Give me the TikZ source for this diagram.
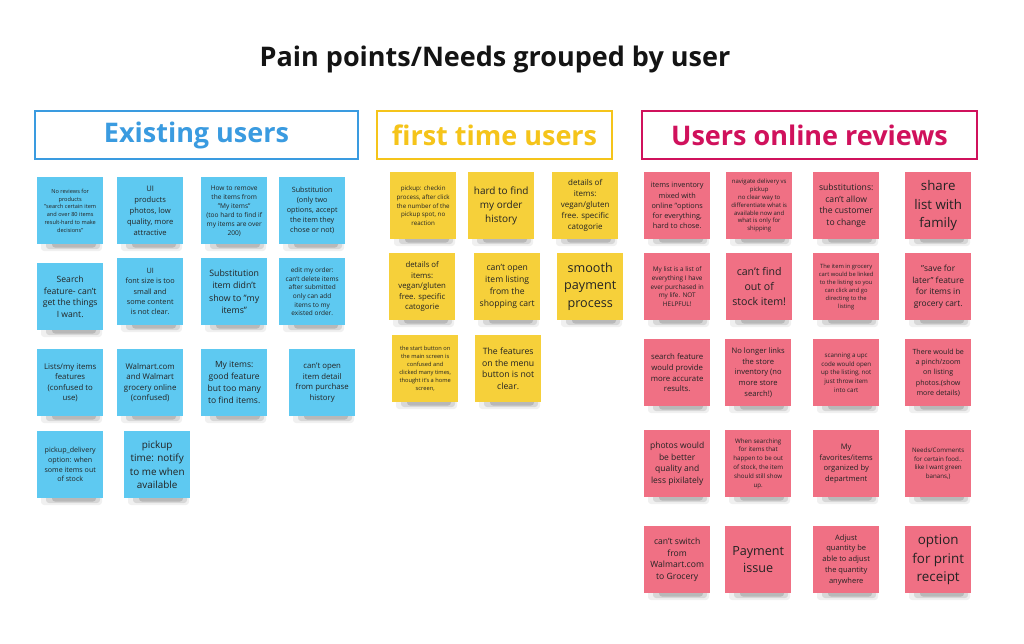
\documentclass[tikz,border=0pt]{standalone}
\usepackage{fontspec}
\setmainfont{Open Sans}
\definecolor{noteblue}{RGB}{94,201,241}
\definecolor{noteyellow}{RGB}{246,208,58}
\definecolor{notepink}{RGB}{240,112,132}
\definecolor{hdrblue}{RGB}{58,155,224}
\definecolor{hdryellow}{RGB}{245,196,26}
\definecolor{hdrpink}{RGB}{208,17,92}
\definecolor{ink}{RGB}{35,35,35}
\tikzset{
  note/.style={anchor=north west, minimum width=66pt, minimum height=67pt, inner sep=0pt, align=center, text=ink},
  hdrbox/.style={draw, line width=1.5pt, inner sep=0pt, font=\fontsize{27}{30}\selectfont\bfseries},
  shadowlayer/.style={fill=black, rounded corners=3pt}
}
\newcommand\stick[7]{%
  \fill[shadowlayer,opacity=.06] (#2+4,#3+58) rectangle (#2+65,#3+74);
  \fill[shadowlayer,opacity=.10] (#2+9,#3+60) rectangle (#2+63,#3+72);
  \fill[shadowlayer,opacity=.14] (#2+15,#3+62) rectangle (#2+59,#3+70.5);
  \node[note, fill=#4, font=\fontsize{#5}{#6}\selectfont] (#1) at (#2,#3) {#7};
}
\begin{document}
\begin{tikzpicture}[x=1pt,y=-1pt]
\useasboundingbox[fill=white] (0,0) rectangle (1024,643);
\node[font=\fontsize{27}{30}\selectfont\bfseries, text=black!92] (title) at (495,59) {Pain points/Needs grouped by user};
\node[hdrbox, draw=hdrblue, text=hdrblue, minimum width=323pt, minimum height=48pt] (h1) at (196.5,135) {Existing users};
\node[hdrbox, draw=hdryellow, text=hdryellow, minimum width=235pt, minimum height=48pt] (h2) at (494.5,135) {first time users};
\node[hdrbox, draw=hdrpink, text=hdrpink, minimum width=335pt, minimum height=48pt] (h3) at (809.5,135) {Users online reviews};
% blue
\stick{b1}{37}{177}{noteblue}{5.6}{7.7}{No reviews for\\products\\"search certain item\\and over 80 items\\result-hard to make\\decisions"}
\stick{b2}{117}{177}{noteblue}{7.6}{11}{UI\\products\\photos, low\\quality, more\\attractive}
\stick{b3}{201}{177}{noteblue}{6.6}{9}{How to remove\\the items from\\"My items"\\(too hard to find if\\my items are over\\200)}
\stick{b4}{279}{177}{noteblue}{7.2}{10}{Substitution\\(only two\\options, accept\\the item they\\chose or not)}
\stick{b5}{37}{263}{noteblue}{8.6}{11.7}{Search\\feature- can't\\get the things\\I want.}
\stick{b6}{117}{258}{noteblue}{7.3}{10.3}{UI\\font size is too\\small and\\some content\\is not clear.}
\stick{b7}{201}{258}{noteblue}{8.8}{12.5}{Substitution\\item didn't\\show to "my\\items"}
\stick{b8}{279}{258}{noteblue}{6.5}{8.7}{edit my order:\\can't delete items\\after submitted\\only can add\\items to my\\existed order.}
\stick{b9}{37}{349}{noteblue}{7.8}{10.6}{Lists/my items\\features\\(confused to\\use)}
\stick{b10}{117}{349}{noteblue}{7.9}{10.6}{Walmart.com\\and Walmart\\grocery online\\(confused)}
\stick{b11}{201}{349}{noteblue}{8.5}{12}{My items:\\good feature\\but too many\\to find items.}
\stick{b12}{289}{349}{noteblue}{7.8}{10.6}{can't open\\item detail\\from purchase\\history}
\stick{b13}{37}{431}{noteblue}{7.1}{9.7}{pickup\_delivery\\option: when\\some items out\\of stock}
\stick{b14}{124}{431}{noteblue}{9.9}{13.3}{pickup\\time: notify\\to me when\\available}
% yellow
\stick{y1}{390}{172}{noteyellow}{6.2}{8.7}{pickup: checkin\\process, after click\\the number of the\\pickup spot, no\\reaction}
\stick{y2}{468}{172}{noteyellow}{10}{13.7}{hard to find\\my order\\history}
\stick{y3}{552}{172}{noteyellow}{8}{11}{details of\\items:\\vegan/gluten\\free. specific\\catogorie}
\stick{y4}{389}{253}{noteyellow}{7.8}{10.4}{details of\\items:\\vegan/gluten\\free. specific\\catogorie}
\stick{y5}{474}{253}{noteyellow}{8.6}{12}{can't open\\item listing\\from the\\shopping cart}
\stick{y6}{557}{253}{noteyellow}{12.6}{17.5}{smooth\\payment\\process}
\stick{y7}{392}{335}{noteyellow}{5.7}{8}{the start button on\\the main screen is\\confused and\\clicked many times,\\thought it's a home\\screen,}
\stick{y8}{475}{335}{noteyellow}{8.7}{11.7}{The features\\on the menu\\button is not\\clear.}
% pink
\stick{p1}{644}{172}{notepink}{7.3}{10.2}{items inventory\\mixed with\\online "options\\for everything,\\hard to chose.}
\stick{p2}{726}{172}{notepink}{6}{7.8}{navigate delivery vs\\pickup\\no clear way to\\differentiate what is\\available now and\\what is only for\\shipping}
\stick{p3}{813}{172}{notepink}{8.6}{11.7}{substitutions:\\can't allow\\the customer\\to change}
\stick{p4}{905}{172}{notepink}{13.3}{18.3}{share\\list with\\family}
\stick{p5}{644}{253}{notepink}{6.4}{8.7}{My list is a list of\\everything I have\\ever purchased in\\my life. NOT\\HELPFUL!}
\stick{p6}{726}{253}{notepink}{10.6}{14.7}{can't find\\out of\\stock item!}
\stick{p7}{813}{253}{notepink}{5.8}{8}{The item in grocery\\cart would be linked\\to the listing so you\\can click and go\\directing to the\\listing}
\stick{p8}{905}{253}{notepink}{8.4}{11.8}{"save for\\later" feature\\for items in\\grocery cart.}
\stick{p9}{644}{339}{notepink}{7.8}{10.8}{search feature\\would provide\\more accurate\\results.}
\stick{p10}{725}{339}{notepink}{7.6}{10.8}{No longer links\\the store\\inventory (no\\more store\\search!)}
\stick{p11}{813}{339}{notepink}{6.2}{8.8}{scanning a upc\\code would open\\up the listing, not\\just throw item\\into cart}
\stick{p12}{905}{339}{notepink}{7.1}{10.2}{There would be\\a pinch/zoom\\on listing\\photos.(show\\more details)}
\stick{p13}{644}{430}{notepink}{8.5}{11.7}{photos would\\be better\\quality and\\less pixilately}
\stick{p14}{725}{430}{notepink}{6.2}{8.9}{When searching\\for items that\\happen to be out\\of stock, the item\\should still show\\up.}
\stick{p15}{813}{430}{notepink}{7.6}{10.6}{My\\favorites/items\\organized by\\department}
\stick{p16}{905}{430}{notepink}{6.2}{8.8}{Needs/Comments\\for certain food..\\like I want green\\banans,)}
\stick{p17}{644}{526}{notepink}{8.6}{11.7}{can't switch\\from\\Walmart.com\\to Grocery}
\stick{p18}{725}{526}{notepink}{12.6}{17.3}{Payment\\issue}
\stick{p19}{813}{526}{notepink}{7.5}{10.8}{Adjust\\quantity be\\able to adjust\\the quantity\\anywhere}
\stick{p20}{905}{526}{notepink}{13.4}{18.5}{option\\for print\\receipt}
\end{tikzpicture}
\end{document}
